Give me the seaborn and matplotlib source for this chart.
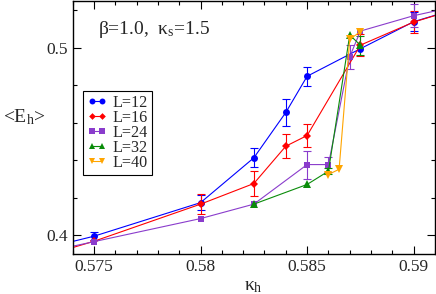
import pandas as pd
import numpy as np
import seaborn as sns
import matplotlib.pyplot as plt

# data (points at 0.570 / 0.595 lie outside the view)
k12 = [0.570, 0.575, 0.580, 0.5825, 0.584, 0.585, 0.5875, 0.590, 0.595]
e12 = [0.3855, 0.3995, 0.4174, 0.4413, 0.4655, 0.4848, 0.4995, 0.5139, 0.5310]
d12 = [0.0, 0.002, 0.004, 0.005, 0.007, 0.005, 0.0, 0.005, 0.0]

k16 = [0.570, 0.575, 0.580, 0.5825, 0.584, 0.585, 0.5875, 0.590, 0.595]
e16 = [0.3800, 0.3968, 0.4166, 0.4276, 0.4475, 0.4532, 0.5014, 0.5137, 0.5310]
d16 = [0.0, 0.0, 0.0055, 0.0065, 0.0065, 0.006, 0.006, 0.006, 0.0]

k24 = [0.570, 0.575, 0.580, 0.5825, 0.585, 0.586, 0.587, 0.5875, 0.590, 0.595]
e24 = [0.3843, 0.3966, 0.4089, 0.4166, 0.4377, 0.4377, 0.4952, 0.5089, 0.5171, 0.5296]
d24 = [0.0, 0.0, 0.0, 0.0, 0.0075, 0.004, 0.0065, 0.0, 0.006, 0.0]

k32 = [0.5825, 0.585, 0.586, 0.587, 0.5875]
e32 = [0.4166, 0.4271, 0.4342, 0.5068, 0.5014]
d32 = [0.0, 0.0, 0.0015, 0.0, 0.005]

k40 = [0.586, 0.5865, 0.587, 0.5875]
e40 = [0.4324, 0.4352, 0.5045, 0.5086]
d40 = [0.0, 0.0, 0.0, 0.0]

labels = ['L=12', 'L=16', 'L=24', 'L=32', 'L=40']
colors = ['#0000ff', '#ff0000', '#8a3ccc', '#0a8c0a', '#ffa500']
marks = ['o', 'D', 's', '^', 'v']
msize = {'o': 5, 'D': 4, 's': 4.6, '^': 5.6, 'v': 5.6}
series = [(k12, e12, d12), (k16, e16, d16), (k24, e24, d24),
          (k32, e32, d32), (k40, e40, d40)]

df = pd.concat([pd.DataFrame({'kappa': k, 'E': e, 'err': d, 'L': lab})
                for (k, e, d), lab in zip(series, labels)], ignore_index=True)

sns.set_style('ticks')
plt.rcParams['font.family'] = ['Liberation Serif', 'DejaVu Serif']
plt.rcParams['mathtext.fontset'] = 'custom'
plt.rcParams['mathtext.rm'] = 'Liberation Serif'
plt.rcParams['mathtext.it'] = 'Liberation Serif:italic'

fig = plt.figure(figsize=(4.36, 2.94), dpi=100)
ax = fig.add_axes([0.1667, 0.136, 0.831, 0.861])

for lab, c in zip(labels, colors):
    sub = df[(df['L'] == lab) & (df['err'] > 0)]
    ax.errorbar(sub['kappa'], sub['E'], yerr=sub['err'], fmt='none',
                ecolor=c, elinewidth=0.8, capsize=3, capthick=0.8, zorder=1)

sns.lineplot(data=df, x='kappa', y='E', hue='L', style='L',
             palette=dict(zip(labels, colors)),
             markers=dict(zip(labels, marks)), dashes=False,
             markersize=5, markeredgewidth=0, linewidth=0.8,
             ax=ax, zorder=2)
for ln in ax.get_lines():
    m = ln.get_marker()
    if m in msize:
        ln.set_markersize(msize[m])

ax.set_xlim(0.574, 0.591)
ax.set_ylim(0.39, 0.525)
ax.set_xticks([0.575, 0.58, 0.585, 0.59])
ax.set_xticklabels(['0.575', '0.58', '0.585', '0.59'])
ax.set_xticks(np.arange(0.574, 0.5915, 0.001), minor=True)
ax.set_yticks([0.4, 0.5])
ax.set_yticklabels(['0.4', '0.5'])
ax.set_yticks(np.arange(0.40, 0.5201, 0.02), minor=True)
ax.tick_params(which='both', direction='in', top=True, right=True,
               labelsize=12.5, width=0.8, color='black')
ax.tick_params(which='major', length=6)
ax.tick_params(which='minor', length=3)
for s in ax.spines.values():
    s.set_linewidth(1.0)
    s.set_color('black')

ax.set_xlabel(r'$\mathrm{\kappa_h}$', fontsize=14, labelpad=2)
ax.set_ylabel(r'<E$_\mathrm{h}$>', fontsize=14, rotation=0, labelpad=4)
ax.yaxis.set_label_coords(-0.135, 0.5)
ax.text(0.07, 0.87, r'β=1.0,  κ$_\mathrm{s}$=1.5', transform=ax.transAxes,
        fontsize=14)

h, l = ax.get_legend_handles_labels()
for hd in h:
    m = hd.get_marker()
    if m in msize:
        hd.set_markersize(msize[m] * 0.85)
leg = ax.legend(h, l, loc='upper left', bbox_to_anchor=(0.028, 0.645),
                borderaxespad=0, fontsize=11.6, handlelength=1.25,
                handletextpad=0.35, labelspacing=-0.06, borderpad=0.25,
                numpoints=2, fancybox=False, framealpha=1, edgecolor='black')
leg.get_frame().set_linewidth(0.8)

plt.savefig('out.png', dpi=100)
